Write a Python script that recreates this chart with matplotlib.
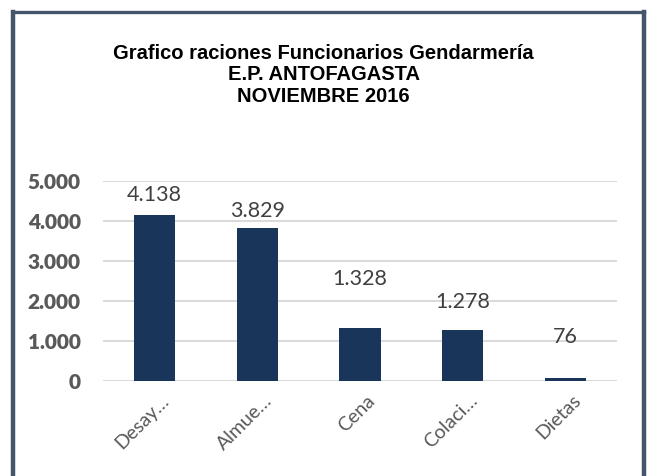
import numpy as np
import matplotlib.pyplot as plt
import matplotlib.transforms as mtransforms
from matplotlib.lines import Line2D
from matplotlib.ticker import FuncFormatter

# datos
categorias = ['Desay…', 'Almue…', 'Cena', 'Colaci…', 'Dietas']
raciones = [4138, 3829, 1328, 1278, 76]
etiquetas = ['4.138', '3.829', '1.328', '1.278', '76']
# separacion (px) de cada etiqueta sobre su barra, como en el original
sep_px = [10, 7, 39, 18, 31]

fig = plt.figure(figsize=(6.47, 4.76), dpi=100)
ax = fig.add_axes([103/647, 1-381/476, 514/647, 200/476])

x = np.arange(len(categorias))
ax.bar(x, raciones, width=0.4, color='#1a355a', zorder=3)

ax.set_xlim(-0.5, 4.5)
ax.set_ylim(0, 5000)
ax.set_yticks([0, 1000, 2000, 3000, 4000, 5000])
ax.yaxis.set_major_formatter(FuncFormatter(lambda v, p: f'{int(v):,}'.replace(',', '.')))
ax.grid(axis='y', color='#d9d9d9', linewidth=1.4, zorder=0)
for s in ax.spines.values():
    s.set_visible(False)
ax.tick_params(axis='y', length=0, pad=16, labelsize=15, labelcolor='#595959')
ax.tick_params(axis='x', length=0, pad=2)
for lab in ax.get_yticklabels():
    lab.set_fontfamily('Lato')
    lab.set_fontweight('heavy')

ax.set_xticks(x)
ax.set_xticklabels(categorias, rotation=45, ha='right', va='center',
                   rotation_mode='anchor', fontsize=14, color='#595959',
                   fontfamily='Lato')
desp = mtransforms.ScaledTranslation(12/100, -14/100, fig.dpi_scale_trans)
for lab in ax.get_xticklabels():
    lab.set_transform(lab.get_transform() + desp)

for xi, v, t, s in zip(x, raciones, etiquetas, sep_px):
    ax.annotate(t, (xi, v), xytext=(0, s * 0.72), textcoords='offset points',
                ha='center', va='bottom', fontsize=15.5, color='#404040',
                fontfamily='Lato')

fig.text(0.5, 1-102/476,
         'Grafico raciones Funcionarios Gendarmería\nE.P. ANTOFAGASTA\nNOVIEMBRE 2016',
         ha='center', va='baseline', fontsize=14.5, fontweight='bold',
         fontfamily='Liberation Sans', linespacing=1.18, color='black',
         multialignment='center')

# marco
c = '#44546a'
fig.add_artist(Line2D([13/647, 13/647], [0, 1-11.5/476], color=c, lw=3.2))
fig.add_artist(Line2D([13/647, 644/647], [1-11.5/476, 1-11.5/476], color=c, lw=2.4))
fig.add_artist(Line2D([644/647, 644/647], [0, 1-11.5/476], color=c, lw=3.2))

fig.savefig('out.png', dpi=100)
